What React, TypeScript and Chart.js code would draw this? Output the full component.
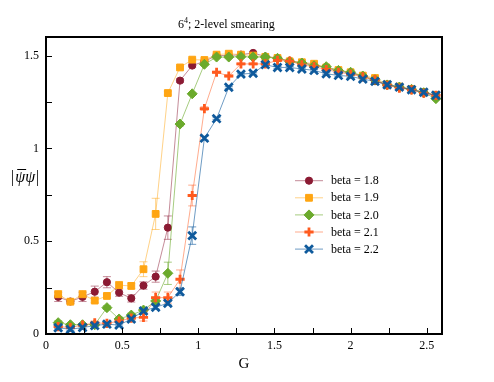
import React, { useEffect, useRef } from 'react';
import { Chart, registerables } from 'chart.js';
import { drawPoint } from 'chart.js/helpers';

Chart.register(...registerables);

const G = [0.08, 0.16, 0.24, 0.32, 0.40, 0.48, 0.56, 0.64, 0.72, 0.80, 0.88, 0.96, 1.04, 1.12, 1.20, 1.28,
  1.36, 1.44, 1.52, 1.60, 1.68, 1.76, 1.84, 1.92, 2.00, 2.08, 2.16, 2.24, 2.32, 2.40, 2.48, 2.56];

const beta18 = [0.200, 0.175, 0.200, 0.228, 0.279, 0.223, 0.192, 0.261, 0.309, 0.573, 1.365, 1.446, 1.469, 1.500, 1.500, 1.505,
  1.514, 1.495, 1.487, 1.470, 1.462, 1.450, 1.432, 1.418, 1.405, 1.390, 1.362, 1.343, 1.330, 1.318, 1.300, 1.285];
const beta19 = [0.214, 0.174, 0.214, 0.180, 0.205, 0.263, 0.259, 0.349, 0.647, 1.298, 1.436, 1.478, 1.476, 1.505, 1.510, 1.505,
  1.500, 1.493, 1.487, 1.469, 1.464, 1.456, 1.436, 1.422, 1.410, 1.392, 1.379, 1.345, 1.333, 1.320, 1.303, 1.288];
const beta20 = [0.061, 0.050, 0.050, 0.050, 0.142, 0.081, 0.102, 0.129, 0.178, 0.327, 1.131, 1.294, 1.453, 1.492, 1.492, 1.494,
  1.492, 1.492, 1.485, 1.468, 1.460, 1.445, 1.440, 1.420, 1.410, 1.390, 1.370, 1.342, 1.330, 1.318, 1.300, 1.268];
const beta21 = [0.040, 0.035, 0.048, 0.060, 0.057, 0.070, 0.086, 0.090, 0.196, 0.196, 0.295, 0.746, 1.214, 1.410, 1.390, 1.455,
  1.455, 1.455, 1.474, 1.470, 1.450, 1.440, 1.425, 1.410, 1.400, 1.385, 1.370, 1.340, 1.325, 1.315, 1.297, 1.285];
const beta22 = [0.034, 0.025, 0.035, 0.045, 0.053, 0.048, 0.081, 0.124, 0.144, 0.166, 0.228, 0.530, 1.055, 1.160, 1.329, 1.400,
  1.405, 1.451, 1.436, 1.436, 1.428, 1.420, 1.402, 1.393, 1.388, 1.373, 1.361, 1.343, 1.330, 1.316, 1.302, 1.286];

const err18 = [0.025, 0.010, 0.025, 0.030, 0.030, 0.020, 0.020, 0.020, 0.030, 0.063, 0.010, 0.008, 0.005, 0.005, 0.005, 0.005,
  0.005, 0.005, 0.005, 0.005, 0.005, 0.005, 0.005, 0.005, 0.005, 0.005, 0.005, 0.005, 0.005, 0.005, 0.005, 0.005];
const err19 = [0.020, 0.010, 0.020, 0.010, 0.010, 0.020, 0.015, 0.040, 0.084, 0.010, 0.005, 0.005, 0.005, 0.005, 0.005, 0.005,
  0.005, 0.005, 0.005, 0.005, 0.005, 0.005, 0.005, 0.005, 0.005, 0.005, 0.005, 0.005, 0.005, 0.005, 0.005, 0.005];
const err20 = [0.010, 0.005, 0.005, 0.005, 0.010, 0.010, 0.010, 0.010, 0.020, 0.060, 0.010, 0.005, 0.005, 0.005, 0.005, 0.005,
  0.005, 0.005, 0.005, 0.005, 0.005, 0.005, 0.005, 0.005, 0.005, 0.005, 0.005, 0.005, 0.005, 0.005, 0.005, 0.005];
const err21 = [0.005, 0.005, 0.005, 0.010, 0.010, 0.010, 0.010, 0.020, 0.030, 0.030, 0.050, 0.056, 0.010, 0.005, 0.005, 0.005,
  0.005, 0.005, 0.005, 0.005, 0.005, 0.005, 0.005, 0.005, 0.005, 0.005, 0.005, 0.005, 0.005, 0.005, 0.005, 0.005];
const err22 = [0.005, 0.005, 0.005, 0.005, 0.005, 0.005, 0.005, 0.010, 0.010, 0.010, 0.020, 0.047, 0.010, 0.005, 0.005, 0.005,
  0.005, 0.005, 0.005, 0.005, 0.005, 0.005, 0.005, 0.005, 0.005, 0.005, 0.005, 0.005, 0.005, 0.005, 0.005, 0.005];

const seriesLabels = ['beta = 1.8', 'beta = 1.9', 'beta = 2.0', 'beta = 2.1', 'beta = 2.2'];
const X_TICKS = [0, 0.5, 1, 1.5, 2, 2.5];
const Y_TICKS = [0, 0.5, 1, 1.5];
const X_MINOR = [0.25, 0.5, 0.75, 1, 1.25, 1.5, 1.75, 2, 2.25, 2.5];
const Y_MINOR = [0.25, 0.5, 0.75, 1, 1.25, 1.5];

const SERIF = '"Liberation Serif", "Times New Roman", serif';

const styles = [
  { color: '#8b1a33', line: 'rgba(139,26,51,0.5)', pointStyle: 'circle', radius: 3.6, bw: 1 },
  { color: '#ffa512', line: 'rgba(255,165,18,0.5)', pointStyle: 'rect', radius: 4.8, bw: 1 },
  { color: '#6baa2c', line: 'rgba(107,170,44,0.6)', pointStyle: 'rectRot', radius: 5, bw: 1 },
  { color: '#ff5a1e', line: 'rgba(255,90,30,0.5)', pointStyle: 'cross', radius: 4.6, bw: 2.8 },
  { color: '#0f5a9c', line: 'rgba(15,90,156,0.6)', pointStyle: 'crossRot', radius: 5.6, bw: 2.8 },
];

const seriesValues = [beta18, beta19, beta20, beta21, beta22];
const seriesErrors = [err18, err19, err20, err21, err22];

const overlay = {
  id: 'overlay',
  beforeDatasetsDraw(chart: any) {
    const ctx = chart.ctx;
    const xs = chart.scales.x;
    const ys = chart.scales.y;
    ctx.save();
    seriesValues.forEach((vals, i) => {
      ctx.strokeStyle = styles[i].line;
      ctx.lineWidth = 1;
      vals.forEach((v, j) => {
        const e = seriesErrors[i][j];
        const x = xs.getPixelForValue(G[j]);
        const y1 = ys.getPixelForValue(v + e);
        const y2 = ys.getPixelForValue(v - e);
        ctx.beginPath();
        ctx.moveTo(x, y1); ctx.lineTo(x, y2);
        ctx.moveTo(x - 4, y1); ctx.lineTo(x + 4, y1);
        ctx.moveTo(x - 4, y2); ctx.lineTo(x + 4, y2);
        ctx.stroke();
      });
    });
    ctx.restore();
  },
  afterDraw(chart: any) {
    const ctx = chart.ctx;
    const { left, right, top, bottom } = chart.chartArea;
    const xs = chart.scales.x;
    const ys = chart.scales.y;
    ctx.save();
    ctx.strokeStyle = '#000';
    ctx.lineWidth = 2;
    ctx.strokeRect(left, top, right - left, bottom - top);
    ctx.lineWidth = 1;
    ctx.beginPath();
    X_MINOR.forEach((v) => {
      const x = Math.round(xs.getPixelForValue(v)) + 0.5;
      ctx.moveTo(x, bottom); ctx.lineTo(x, bottom - 6);
    });
    Y_MINOR.forEach((v) => {
      const y = Math.round(ys.getPixelForValue(v)) + 0.5;
      ctx.moveTo(left, y); ctx.lineTo(left + 6, y);
    });
    ctx.stroke();
    // title
    ctx.fillStyle = '#000';
    ctx.textBaseline = 'alphabetic';
    ctx.textAlign = 'left';
    ctx.font = `12px ${SERIF}`;
    let tx = 178;
    ctx.fillText('6', tx, 28);
    tx += ctx.measureText('6').width;
    ctx.font = `8px ${SERIF}`;
    ctx.fillText('4', tx, 23);
    tx += ctx.measureText('4').width;
    ctx.font = `12px ${SERIF}`;
    ctx.fillText('; 2-level smearing', tx, 28);
    // x label
    ctx.font = `15px ${SERIF}`;
    ctx.textAlign = 'center';
    ctx.textBaseline = 'middle';
    ctx.fillText('G', 244, 364);
    // y label
    ctx.textAlign = 'left';
    let lx = 11;
    const ly = 178;
    ctx.font = `16px ${SERIF}`;
    ctx.fillText('|', lx, ly);
    lx += ctx.measureText('|').width + 1;
    ctx.font = `italic 16px ${SERIF}`;
    const pw = ctx.measureText('ψ').width;
    ctx.fillText('ψ', lx, ly);
    ctx.beginPath();
    ctx.lineWidth = 1;
    ctx.moveTo(lx + 2, ly - 8.5);
    ctx.lineTo(lx + pw + 1, ly - 8.5);
    ctx.stroke();
    lx += pw;
    ctx.fillText('ψ', lx, ly);
    lx += pw + 1;
    ctx.font = `16px ${SERIF}`;
    ctx.fillText('|', lx, ly);
    // legend
    seriesLabels.forEach((lab, i) => {
      const y = 180.7 + 17.1 * i;
      const s = styles[i];
      ctx.strokeStyle = s.line;
      ctx.lineWidth = 1;
      ctx.beginPath();
      ctx.moveTo(295, y); ctx.lineTo(323, y);
      ctx.stroke();
      ctx.fillStyle = s.color;
      ctx.strokeStyle = s.color;
      ctx.lineWidth = s.bw;
      drawPoint(ctx, { pointStyle: s.pointStyle, radius: s.radius, rotation: 0, borderWidth: s.bw } as any, 309, y);
      ctx.fillStyle = '#000';
      ctx.font = `12px ${SERIF}`;
      ctx.textAlign = 'left';
      ctx.textBaseline = 'middle';
      ctx.fillText(lab, 331, y + 0.5);
    });
    ctx.restore();
  },
};

export default function App() {
  const ref = useRef<HTMLCanvasElement | null>(null);
  useEffect(() => {
    if (!ref.current) return;
    const datasets = seriesValues.map((vals, i) => ({
      label: seriesLabels[i],
      data: vals.map((v, j) => ({ x: G[j], y: v })),
      borderColor: styles[i].line,
      backgroundColor: styles[i].color,
      borderWidth: 1,
      pointStyle: styles[i].pointStyle,
      pointRadius: styles[i].radius,
      pointBackgroundColor: styles[i].color,
      pointBorderColor: styles[i].color,
      pointBorderWidth: styles[i].bw,
      order: 4 - i,
      tension: 0,
    }));
    const chart = new Chart(ref.current, {
      type: 'line',
      data: { datasets },
      options: {
        responsive: false,
        maintainAspectRatio: false,
        animation: false,
        layout: { padding: { left: 0, top: 37, right: 52, bottom: 0 } },
        plugins: { legend: { display: false }, tooltip: { enabled: false }, title: { display: false } },
        scales: {
          x: {
            type: 'linear',
            min: 0,
            max: 2.6,
            grid: { display: false, drawTicks: false },
            border: { display: false },
            afterBuildTicks: (s: any) => { s.ticks = X_TICKS.map((v) => ({ value: v })); },
            afterFit: (s: any) => { s.height = 48; },
            ticks: {
              font: { family: SERIF, size: 12 },
              color: '#000',
              padding: 5,
              maxRotation: 0,
              autoSkip: false,
              callback: (v: any) => String(v),
            },
          },
          y: {
            type: 'linear',
            min: 0,
            max: 1.6,
            grid: { display: false, drawTicks: false },
            border: { display: false },
            afterBuildTicks: (s: any) => { s.ticks = Y_TICKS.map((v) => ({ value: v })); },
            afterFit: (s: any) => { s.width = 46; },
            ticks: {
              font: { family: SERIF, size: 12 },
              color: '#000',
              padding: 7,
              autoSkip: false,
              callback: (v: any) => String(v),
            },
          },
        },
      } as any,
      plugins: [overlay],
    });
    return () => chart.destroy();
  }, []);
  return (
    <div style={{ position: 'absolute', left: 0, top: 0, width: 494, height: 382, background: '#fff' }}>
      <canvas ref={ref} width={494} height={382} style={{ width: 494, height: 382, display: 'block' }} />
    </div>
  );
}
